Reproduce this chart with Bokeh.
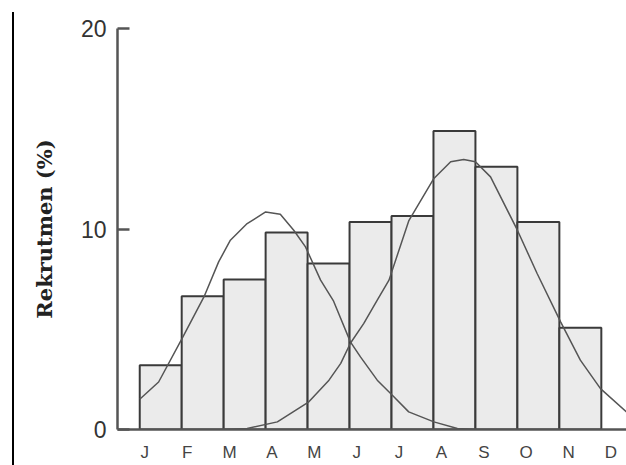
from bokeh.plotting import figure
from bokeh.models import Div, FixedTicker, Range1d
from bokeh.layouts import row
from bokeh.embed import file_html
from bokeh.resources import INLINE

# ---- data ----
months = ["J", "F", "M", "A", "M", "J", "J", "A", "S", "O", "N", "D"]
bar_values = [3.21, 6.65, 7.48, 9.83, 8.28, 10.35, 10.65, 14.89, 13.10, 10.35, 5.07]

# fitted curve 1 (first cohort), x in month units from January bar edge
curve1_x = [0.00, 0.45, 1.01, 1.53, 1.88, 2.16, 2.56, 3.00, 3.35, 3.67, 3.95,
            4.31, 4.62, 5.02, 5.26, 5.66, 6.02, 6.41, 7.01, 7.57, 8.03]
curve1_y = [1.51, 2.37, 4.54, 6.61, 8.36, 9.44, 10.27, 10.85, 10.74, 9.94, 9.11,
            7.45, 6.40, 4.37, 3.62, 2.46, 1.71, 0.88, 0.38, 0.05, 0.00]

# fitted curve 2 (second cohort)
curve2_x = [1.97, 2.56, 3.28, 4.03, 4.51, 4.79, 5.02, 5.34, 5.66, 5.94, 6.41,
            7.01, 7.41, 7.72, 8.00, 8.36, 9.00, 9.47, 10.03, 10.50, 10.98, 11.60]
curve2_y = [0.00, 0.05, 0.38, 1.38, 2.46, 3.30, 4.30, 5.29, 6.45, 7.45, 10.40,
            12.52, 13.35, 13.47, 13.35, 12.60, 9.94, 7.78, 5.37, 3.46, 2.04, 0.88]

y_ticks = [0, 10, 20]

# ---- figure ----
p = figure(width=612, height=465,
           x_range=Range1d(-0.53, 11.60), y_range=Range1d(0, 20),
           output_backend="svg", toolbar_location=None,
           min_border_left=103, min_border_right=0,
           min_border_top=28, min_border_bottom=36)
p.xgrid.visible = False
p.ygrid.visible = False
p.outline_line_color = None
p.background_fill_color = "white"
p.border_fill_color = "white"

lefts = [i for i in range(len(bar_values))]
rights = [i + 1 for i in range(len(bar_values))]
p.quad(left=lefts, right=rights, bottom=0, top=bar_values,
       fill_color="#ebebeb", line_color="#3a3a3a", line_width=2)

p.line(curve1_x, curve1_y, line_color="#555555", line_width=1.5)
p.line(curve2_x, curve2_y, line_color="#555555", line_width=1.5)

# x axis
tick_pos = [round(0.12 + 1.01 * i, 3) for i in range(len(months))]
p.xaxis.ticker = FixedTicker(ticks=tick_pos)
p.xaxis.major_label_overrides = {t: m for t, m in zip(tick_pos, months)}
p.xaxis.axis_line_color = "#555555"
p.xaxis.axis_line_width = 2.5
p.xaxis.major_tick_line_color = None
p.xaxis.minor_tick_line_color = None
p.xaxis.major_label_text_font = "Liberation Sans"
p.xaxis.major_label_text_font_size = "17px"
p.xaxis.major_label_text_color = "#444444"
p.xaxis.major_label_standoff = 7

# y axis
p.yaxis.ticker = FixedTicker(ticks=y_ticks)
p.yaxis.axis_line_color = "#555555"
p.yaxis.axis_line_width = 2.5
p.yaxis.major_tick_line_color = "#555555"
p.yaxis.major_tick_line_width = 2.5
p.yaxis.major_tick_in = 12
p.yaxis.major_tick_out = 0
p.yaxis.minor_tick_line_color = None
p.yaxis.major_label_text_font = "Liberation Sans"
p.yaxis.major_label_text_font_size = "23px"
p.yaxis.major_label_text_color = "#333333"
p.yaxis.major_label_standoff = 11
p.yaxis.axis_label = "Rekrutmen (%)"
p.yaxis.axis_label_text_font = "DejaVu Serif"
p.yaxis.axis_label_text_font_style = "bold"
p.yaxis.axis_label_text_font_size = "21px"
p.yaxis.axis_label_text_color = "#222222"
p.yaxis.axis_label_standoff = 21

edge = Div(text="", width=14, height=453, margin=(12, 0, 0, 0),
           styles={"border-right": "2px solid #000000", "box-sizing": "border-box"})

layout = row(edge, p, spacing=0)

open("out.html", "w").write(file_html(layout, INLINE))
